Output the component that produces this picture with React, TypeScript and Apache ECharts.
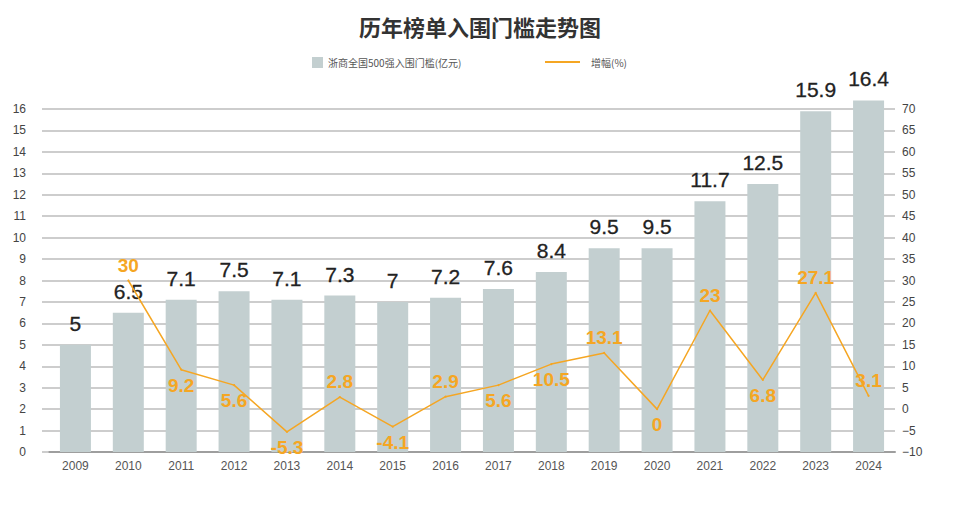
import React, { useEffect, useRef } from "react";
import * as echarts from "echarts";

const years = ["2009","2010","2011","2012","2013","2014","2015","2016","2017","2018","2019","2020","2021","2022","2023","2024"];
const threshold = [5, 6.5, 7.1, 7.5, 7.1, 7.3, 7, 7.2, 7.6, 8.4, 9.5, 9.5, 11.7, 12.5, 15.9, 16.4];
const growth: (number | null)[] = [null, 30, 9.2, 5.6, -5.3, 2.8, -4.1, 2.9, 5.6, 10.5, 13.1, 0, 23, 6.8, 27.1, 3.1];
const growthLabelSide = ["top","top","bottom","bottom","bottom","top","bottom","top","bottom","bottom","top","bottom","top","bottom","top","top"];

const barName = "浙商全国500强入围门槛(亿元)";
const lineName = "增幅(%)";

export default function App() {
  const ref = useRef<HTMLDivElement>(null);
  useEffect(() => {
    if (!ref.current) return;
    document.body.style.margin = "0";
    const chart = echarts.init(ref.current, null, { renderer: "svg" });
    const sans = "'Liberation Sans', Arial, 'Noto Sans CJK SC', sans-serif";
    const orange = "#F5A623";
    const gridColor = "#BDBDBD";
    chart.setOption({
      animation: false,
      backgroundColor: "#ffffff",
      title: {
        text: "历年榜单入围门槛走势图",
        left: "center",
        top: 15,
        padding: 0,
        textStyle: { fontSize: 22, fontWeight: "bold", color: "#333", fontFamily: "'Noto Sans CJK SC', sans-serif" },
      },
      legend: [
        {
          data: [barName],
          left: 312,
          top: 57,
          padding: 0,
          itemWidth: 11,
          itemHeight: 11,
          itemGap: 10,
          icon: "rect",
          textStyle: { fontSize: 10, color: "#555", fontFamily: "'Noto Sans CJK SC', sans-serif" },
        },
        {
          data: [lineName],
          left: 545,
          top: 57,
          padding: 0,
          itemWidth: 35,
          itemHeight: 2,
          icon: "rect",
          itemStyle: { color: orange },
          textStyle: { fontSize: 10, color: "#555", fontFamily: "'Noto Sans CJK SC', sans-serif", padding: [0, 0, 0, 6] },
        },
      ],
      grid: { left: 49, right: 65, top: 109, bottom: 61, containLabel: false },
      xAxis: {
        type: "category",
        data: years,
        boundaryGap: true,
        axisTick: { show: false },
        axisLine: { show: true, lineStyle: { color: "#9E9E9E", width: 2 } },
        axisLabel: { color: "#555", fontSize: 12, fontFamily: sans, margin: 8 },
      },
      yAxis: [
        {
          type: "value",
          min: 0,
          max: 16,
          interval: 1,
          axisLine: { show: false },
          axisTick: { show: true, length: 7, lineStyle: { color: gridColor, width: 1.5 } },
          splitLine: { show: true, lineStyle: { color: gridColor, width: 1.5 } },
          axisLabel: { color: "#444", fontSize: 12, fontFamily: sans, margin: 23 },
        },
        {
          type: "value",
          min: -10,
          max: 70,
          interval: 5,
          axisLine: { show: false },
          axisTick: { show: false },
          splitLine: { show: false },
          axisLabel: {
            color: "#444",
            fontSize: 12,
            fontFamily: sans,
            margin: 7,
            formatter: (v: number) => (v < 0 ? "\u2212" + Math.abs(v) : String(v)),
          },
        },
      ],
      series: [
        {
          name: barName,
          type: "bar",
          data: threshold,
          barWidth: 31,
          clip: false,
          itemStyle: { color: "#C3CFD0" },
          label: {
            show: true,
            position: "top",
            distance: 11,
            color: "#222",
            fontSize: 21,
            fontFamily: sans,
            textBorderColor: "#222",
            textBorderWidth: 0.3,
          },
        },
        {
          name: lineName,
          type: "line",
          yAxisIndex: 1,
          data: growth.map((v, i) =>
            v === null ? "-" : { value: v, label: { position: growthLabelSide[i] } }
          ),
          showSymbol: true,
          symbol: "circle",
          symbolSize: 2,
          lineStyle: { color: orange, width: 1.5 },
          itemStyle: { color: orange, borderWidth: 0 },
          label: {
            show: true,
            distance: 5,
            color: orange,
            fontSize: 19,
            fontWeight: "bold",
            fontFamily: sans,
          },
          labelLayout: { hideOverlap: false },
          z: 5,
        },
      ],
    });
    return () => chart.dispose();
  }, []);
  return <div ref={ref} style={{ width: 960, height: 513 }} />;
}
